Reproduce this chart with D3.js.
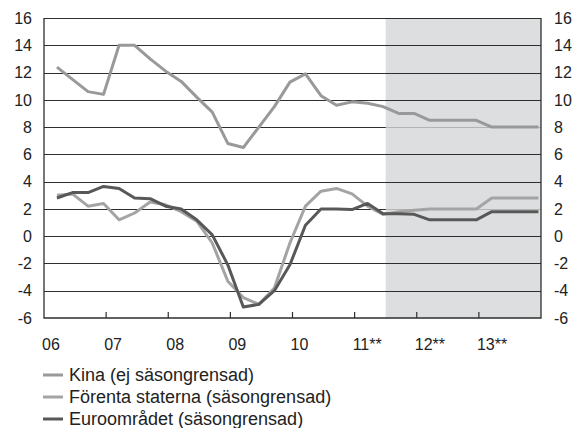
<!DOCTYPE html>
<html>
<head>
<meta charset="utf-8">
<script src="https://cdn.jsdelivr.net/npm/d3@7"></script>
<style>
  body { margin: 0; background: #fff; }
  svg { display: block; font-family: "Liberation Sans", Arial, sans-serif; }
</style>
</head>
<body>
<svg id="chart" width="574" height="428"></svg>
<script>
// quarterly data 2006 Q1 - 2013 Q4, forecasts from 2011 Q3
const years = [2006, 2007, 2008, 2009, 2010, 2011, 2012, 2013]
const yearLabels = ["06", "07", "08", "09", "10", "11**", "12**", "13**"]
const yTicks = [-6, -4, -2, 0, 2, 4, 6, 8, 10, 12, 14, 16]
const forecastStart = 2011.5

const kina = [12.4, 11.5, 10.6, 10.4, 14.0, 14.0, 13.0, 12.1,
  11.35, 10.2, 9.1, 6.8, 6.5, 8.0, 9.5, 11.3,
  11.9, 10.3, 9.6, 9.85, 9.75, 9.5, 9.0, 9.0,
  8.5, 8.5, 8.5, 8.5, 8.0, 8.0, 8.0, 8.0]
const usa = [3.0, 3.1, 2.2, 2.4, 1.2, 1.7, 2.5, 2.3,
  1.8, 1.1, -0.5, -3.3, -4.5, -5.0, -3.8, -0.5,
  2.2, 3.3, 3.5, 3.1, 2.2, 1.6, 1.8, 1.9,
  2.0, 2.0, 2.0, 2.0, 2.8, 2.8, 2.8, 2.8]
const euro = [2.8, 3.2, 3.2, 3.65, 3.5, 2.8, 2.75, 2.2,
  2.0, 1.2, 0.1, -2.1, -5.2, -5.0, -4.0, -2.1,
  0.8, 2.0, 2.0, 1.95, 2.4, 1.65, 1.65, 1.6,
  1.2, 1.2, 1.2, 1.2, 1.8, 1.8, 1.8, 1.8]

const seriesNames = ["Kina (ej säsongrensad)", "Förenta staterna (säsongrensad)", "Euroområdet (säsongrensad)"]
const seriesColors = ["#999999", "#a4a4a4", "#585858"]

const series = [kina, usa, euro].map((values, k) => ({
  name: seriesNames[k],
  color: seriesColors[k],
  // each quarter is placed at the middle of its last month
  points: values.map((v, i) => ({ t: 2006 + Math.floor(i / 4) + (i % 4) / 4 + 2.5 / 12, v }))
}))

const svg = d3.select("#chart")
const plotL = 44, plotR = 541, plotT = 18, plotB = 318

const x = d3.scaleLinear().domain([2006, 2014]).range([plotL, plotR])
const y = d3.scaleLinear().domain([-6, 16]).range([plotB, plotT])

// forecast shading
svg.append("rect")
  .attr("x", x(forecastStart))
  .attr("y", y(16))
  .attr("width", x(2014) - x(forecastStart))
  .attr("height", y(-6) - y(16))
  .attr("fill", "#dddee0")

// grid lines
svg.append("g")
  .selectAll("line")
  .data(yTicks.filter(d => d > -6))
  .join("line")
  .attr("x1", plotL)
  .attr("x2", plotR)
  .attr("y1", d => Math.round(y(d)) + 0.5)
  .attr("y2", d => Math.round(y(d)) + 0.5)
  .attr("stroke", "#2e2e2e")
  .attr("stroke-width", 1)

// in the forecast area the 8 and 2 lines are pale
svg.append("g")
  .selectAll("line")
  .data([8, 2])
  .join("line")
  .attr("x1", x(forecastStart))
  .attr("x2", plotR)
  .attr("y1", d => Math.round(y(d)) + 0.5)
  .attr("y2", d => Math.round(y(d)) + 0.5)
  .attr("stroke", "#b4b4b4")
  .attr("stroke-width", 1)

// frame: left, right and bottom
svg.append("path")
  .attr("d", `M${plotL},${plotT}V${plotB}H${plotR}V${plotT}`)
  .attr("fill", "none")
  .attr("stroke", "#2e2e2e")
  .attr("stroke-width", 1.3)

// year ticks (pointing up)
svg.append("g")
  .selectAll("line")
  .data(years.slice(1))
  .join("line")
  .attr("x1", d => x(d))
  .attr("x2", d => x(d))
  .attr("y1", plotB)
  .attr("y2", plotB - 6)
  .attr("stroke", "#2e2e2e")
  .attr("stroke-width", 1.2)

// lines
const line = d3.line().x(d => x(d.t)).y(d => y(d.v))
svg.append("g")
  .selectAll("path")
  .data(series)
  .join("path")
  .attr("d", d => line(d.points))
  .attr("fill", "none")
  .attr("stroke", d => d.color)
  .attr("stroke-width", 3)
  .attr("stroke-linejoin", "round")

// y labels both sides
const tickFont = 16
svg.append("g")
  .selectAll("text")
  .data(yTicks)
  .join("text")
  .attr("x", 32)
  .attr("y", d => y(d))
  .attr("dy", "0.36em")
  .attr("text-anchor", "end")
  .attr("font-size", tickFont)
  .attr("fill", "#222")
  .text(d => d)

svg.append("g")
  .selectAll("text")
  .data(yTicks)
  .join("text")
  .attr("x", 554)
  .attr("y", d => y(d))
  .attr("dy", "0.36em")
  .attr("text-anchor", "start")
  .attr("font-size", tickFont)
  .attr("fill", "#222")
  .text(d => d)

// x labels
svg.append("g")
  .selectAll("text")
  .data(years)
  .join("text")
  .attr("x", d => x(d) - 2)
  .attr("y", 350)
  .attr("font-size", tickFont)
  .attr("fill", "#222")
  .text((d, i) => yearLabels[i])

// legend
const legend = svg.append("g")
  .selectAll("g")
  .data(series)
  .join("g")
  .attr("transform", (d, i) => `translate(43,${375 + i * 22})`)

legend.append("line")
  .attr("x1", 0)
  .attr("x2", 20)
  .attr("stroke", d => d.color)
  .attr("stroke-width", 3)

legend.append("text")
  .attr("x", 26)
  .attr("dy", "0.36em")
  .attr("font-size", 18)
  .attr("fill", "#222")
  .text(d => d.name)
</script>
</body>
</html>
